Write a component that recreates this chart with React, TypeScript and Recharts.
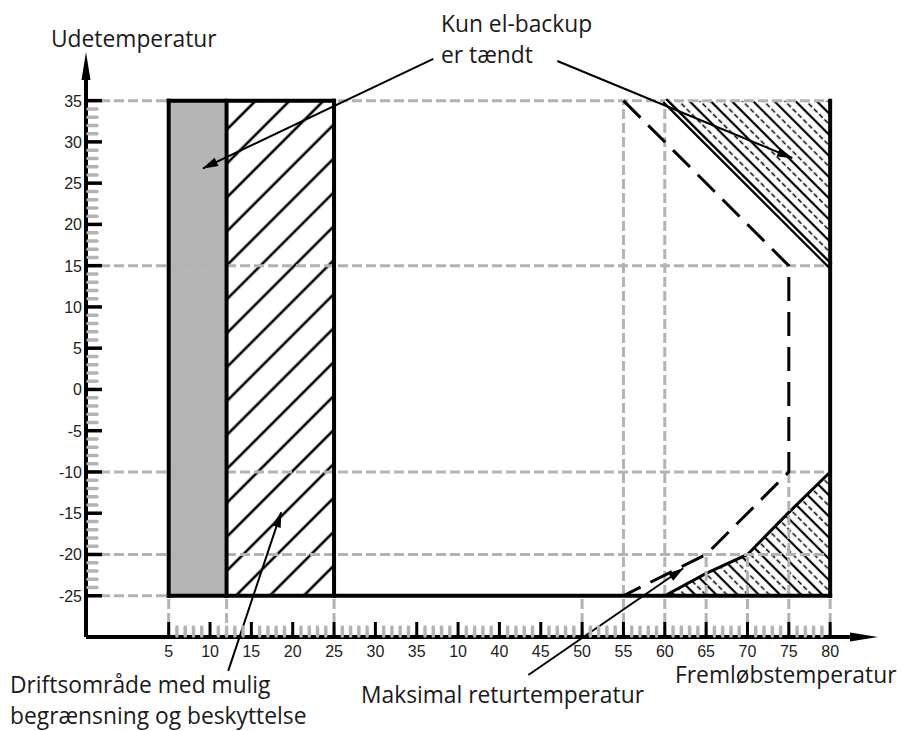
import {
  ComposedChart,
  XAxis,
  YAxis,
  Line,
  Area,
  ReferenceLine,
  ReferenceArea,
} from "recharts";

// Akser (x = position på aksen, tekst som trykt på diagrammet)
const xMajorTicks = [5, 10, 15, 20, 25, 30, 35, 40, 45, 50, 55, 60, 65, 70, 75, 80, 85];
const xTickLabels = ["5", "10", "15", "20", "25", "30", "35", "10", "40", "45", "50", "55", "60", "65", "70", "75", "80"];
const yMajorTicks = [35, 30, 25, 20, 15, 10, 5, 0, -5, -10, -15, -20, -25];
const yTickLabels = ["35", "30", "25", "20", "15", "10", "5", "0", "-5", "-10", "-15", "-20", "-25"];

// småstreger for hver grad
const xAllTicks = Array.from({ length: 81 }, (_, i) => 5 + i);
const yAllTicks = Array.from({ length: 61 }, (_, i) => -25 + i);

// Områder
const elBackupZone = { x1: 5, x2: 12, y1: -25, y2: 35 };
const limitedZone = { x1: 12, x2: 25, y1: -25, y2: 35 };
const upperBackup = [
  { x: 65, y: 35 },
  { x: 85, y: 15 },
];
const lowerBackup = [
  { x: 65, y: -25 },
  { x: 70, y: -22.3 },
  { x: 75, y: -20 },
  { x: 80, y: -14.9 },
  { x: 85, y: -10 },
];
const maxReturn = [
  { x: 60, y: 35 },
  { x: 80, y: 15 },
  { x: 80, y: -10 },
  { x: 70, y: -20 },
  { x: 60, y: -25 },
];

// Hjælpelinjer (grå stiplede)
const gridSegments: [number, number][][] = [
  [[-5, 35], [85, 35]],
  [[-5, 15], [85, 15]],
  [[-5, -10], [85, -10]],
  [[-5, -20], [85, -20]],
  [[-5, -25], [5, -25]],
  [[5, -30], [5, -25]],
  [[12, -30], [12, -25]],
  [[25, -30], [25, -25]],
  [[55, -30], [55, -25]],
  [[60, -30], [60, 35]],
  [[65, -30], [65, 35]],
  [[70, -30], [70, -20]],
  [[75, -30], [75, -20]],
  [[80, -30], [80, -10]],
  [[85, -30], [85, -25]],
];

// Sorte rammer
const frameSegments: [number, number][][] = [
  [[5, -25], [5, 35]],
  [[12, -25], [12, 35]],
  [[25, -25], [25, 35]],
  [[5, 35], [25, 35]],
  [[5, -25], [85, -25]],
  [[85, -25], [85, 35]],
];

// Pile til tekster
const arrows: [number, number][][] = [
  [[37.0, 40.05], [9.15, 26.8]],
  [[52.0, 39.8], [80.4, 28.05]],
  [[12.2, -34.1], [18.6, -14.9]],
  [[48.5, -34.6], [67.2, -21.7]],
];

const GRAY = "#b3b3b3";
const font = "'Open Sans', sans-serif";

function XTick(props: any) {
  const { x, y, payload } = props;
  const idx = xMajorTicks.indexOf(payload.value);
  if (idx < 0) {
    return <line x1={x} y1={y - 1} x2={x} y2={y - 10} stroke={GRAY} strokeWidth={3.5} strokeLinecap="round" />;
  }
  return (
    <g>
      <line x1={x} y1={y} x2={x} y2={y - 15} stroke="#000" strokeWidth={3} />
      <text x={x} y={y + 20} textAnchor="middle" fontSize={16} fill="#222" fontFamily="'Liberation Sans', Arial, sans-serif">
        {xTickLabels[idx]}
      </text>
    </g>
  );
}

function YTick(props: any) {
  const { x, y, payload } = props;
  const idx = yMajorTicks.indexOf(payload.value);
  if (idx < 0) {
    return <line x1={x + 2} y1={y} x2={x + 11} y2={y} stroke={GRAY} strokeWidth={3.5} strokeLinecap="round" />;
  }
  return (
    <g>
      <line x1={x} y1={y} x2={x + 16} y2={y} stroke="#000" strokeWidth={3.5} />
      <text x={x - 4} y={y + 6} textAnchor="end" fontSize={16} fill="#222" fontFamily="'Liberation Sans', Arial, sans-serif">
        {yTickLabels[idx]}
      </text>
    </g>
  );
}

const textStyle = {
  position: "absolute" as const,
  fontFamily: font,
  fontSize: 22.8,
  lineHeight: "26px",
  color: "#1a1a1a",
  whiteSpace: "nowrap" as const,
};

export default function App() {
  return (
    <div style={{ position: "absolute", left: 0, top: 0, width: 902, height: 731, background: "#fff" }}>
      <ComposedChart width={902} height={731} margin={{ top: 80, right: 52, bottom: 64, left: 46 }}>
        <defs>
          <pattern id="hatchL" width="24" height="24" patternUnits="userSpaceOnUse" patternTransform="rotate(-45)">
            <rect width="24" height="24" fill="#fff" />
            <line x1="0" y1="12" x2="24" y2="12" stroke="#000" strokeWidth="2.6" />
          </pattern>
          <pattern id="hatchR" width="15" height="15" patternUnits="userSpaceOnUse" patternTransform="rotate(45)">
            <rect width="15" height="15" fill="#fff" />
            <line x1="0" y1="4" x2="15" y2="4" stroke="#000" strokeWidth="2.2" />
            <line x1="0" y1="11.5" x2="15" y2="11.5" stroke="#000" strokeWidth="1.6" strokeDasharray="5 2.5" />
          </pattern>
          <marker id="axisArrow" viewBox="0 -5 28 10" markerWidth="28" markerHeight="10" refX="0" refY="0" markerUnits="userSpaceOnUse" orient="auto-start-reverse" overflow="visible">
            <path d="M0,-4.5 L28,0 L0,4.5 z" fill="#000" />
          </marker>
          <marker id="annArrow" viewBox="0 -5 16 10" markerWidth="16" markerHeight="10" refX="15" refY="0" markerUnits="userSpaceOnUse" orient="auto" overflow="visible">
            <path d="M0,-4.5 L16,0 L0,4.5 z" fill="#000" />
          </marker>
        </defs>

        {gridSegments.map((s, i) => (
          <ReferenceLine
            key={`g${i}`}
            segment={[{ x: s[0][0], y: s[0][1] }, { x: s[1][0], y: s[1][1] }]}
            stroke={GRAY}
            strokeWidth={3}
            strokeDasharray="10 4"
          />
        ))}

        <ReferenceArea {...elBackupZone} fill="#b5b5b5" fillOpacity={1} stroke="none" />
        <ReferenceArea {...limitedZone} fill="url(#hatchL)" fillOpacity={1} stroke="none" />

        <Area data={upperBackup} dataKey="y" type="linear" baseValue={35} fill="url(#hatchR)" fillOpacity={1} stroke="none" isAnimationActive={false} dot={false} activeDot={false} />
        <Area data={lowerBackup} dataKey="y" type="linear" baseValue={-25} fill="url(#hatchR)" fillOpacity={1} stroke="#000" strokeWidth={3} isAnimationActive={false} dot={false} activeDot={false} />

        <Line data={maxReturn} dataKey="y" type="linear" stroke="#000" strokeWidth={3} strokeDasharray="24 11" dot={false} activeDot={false} isAnimationActive={false} />
        <Line data={upperBackup} dataKey="y" type="linear" stroke="#000" strokeWidth={6.5} dot={false} activeDot={false} isAnimationActive={false} />
        <Line data={upperBackup} dataKey="y" type="linear" stroke="#fff" strokeWidth={2} dot={false} activeDot={false} isAnimationActive={false} />

        {frameSegments.map((s, i) => (
          <ReferenceLine
            key={`f${i}`}
            segment={[{ x: s[0][0], y: s[0][1] }, { x: s[1][0], y: s[1][1] }]}
            stroke="#000"
            strokeWidth={4}
            strokeLinecap="square"
          />
        ))}

        <XAxis
          type="number"
          dataKey="x"
          domain={[-5, 87.4]}
          allowDataOverflow
          ticks={xAllTicks}
          interval={0}
          height={30}
          tickSize={0}
          tickMargin={0}
          tickLine={false}
          tick={<XTick />}
          axisLine={{ stroke: "#000", strokeWidth: 4, markerEnd: "url(#axisArrow)" }}
        />
        <YAxis
          type="number"
          domain={[-30, 37.5]}
          allowDataOverflow
          ticks={yAllTicks}
          interval={0}
          width={40}
          tickSize={0}
          tickMargin={0}
          tickLine={false}
          tick={<YTick />}
          axisLine={{ stroke: "#000", strokeWidth: 4, markerStart: "url(#axisArrow)" }}
        />

        {arrows.map((s, i) => (
          <ReferenceLine
            key={`a${i}`}
            segment={[{ x: s[0][0], y: s[0][1] }, { x: s[1][0], y: s[1][1] }]}
            ifOverflow="visible"
            shape={(p: any) => (
              <line x1={p.x1} y1={p.y1} x2={p.x2} y2={p.y2} stroke="#000" strokeWidth={2} markerEnd="url(#annArrow)" />
            )}
          />
        ))}
      </ComposedChart>

      <div style={{ ...textStyle, left: 51, top: 25.5 }}>Udetemperatur</div>
      <div style={{ ...textStyle, left: 441, top: 10.5 }}>Kun el-backup</div>
      <div style={{ ...textStyle, left: 441, top: 41.5 }}>er tændt</div>
      <div style={{ ...textStyle, left: 10, top: 671.5 }}>Driftsområde med mulig</div>
      <div style={{ ...textStyle, left: 10, top: 702.8 }}>begrænsning og beskyttelse</div>
      <div style={{ ...textStyle, left: 361, top: 681.5 }}>Maksimal returtemperatur</div>
      <div style={{ ...textStyle, left: 675, top: 661.5 }}>Fremløbstemperatur</div>
    </div>
  );
}
